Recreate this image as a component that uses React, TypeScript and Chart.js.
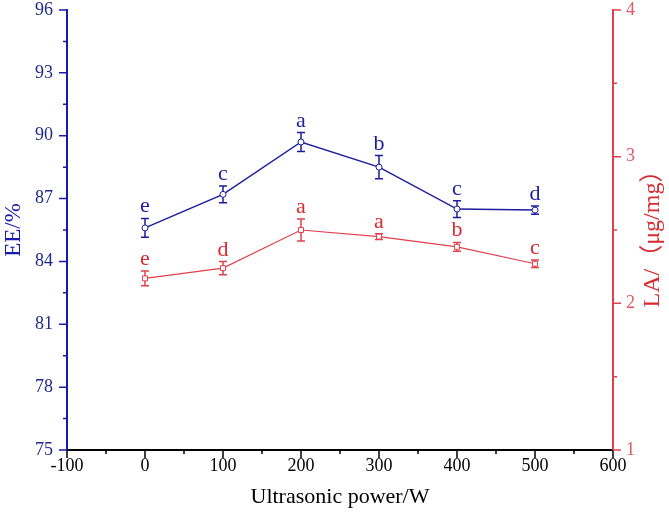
import React, { useEffect, useRef } from 'react';
import { Chart, registerables } from 'chart.js';

Chart.register(...registerables);

// ---- data ----
const powers = [0, 100, 200, 300, 400, 500];
const eeValues = [85.6, 87.2, 89.7, 88.5, 86.5, 86.45];
const eeErrors = [0.45, 0.4, 0.45, 0.55, 0.4, 0.2];
const eeLetters = ['e', 'c', 'a', 'b', 'c', 'd'];
const laValues = [2.17, 2.24, 2.5, 2.455, 2.385, 2.27];
const laErrors = [0.05, 0.045, 0.075, 0.02, 0.03, 0.025];
const laLetters = ['e', 'd', 'a', 'a', 'b', 'c'];

const xTickValues = [-100, 0, 100, 200, 300, 400, 500, 600];
const eeTickValues = [75, 78, 81, 84, 87, 90, 93, 96];
const laTickValues = [1, 2, 3, 4];

const xTitle = 'Ultrasonic power/W';
const eeTitle = 'EE/%';
const laTitle = 'LA/（μg/mg）';

// ---- styles ----
const SERIF = "'Liberation Serif', 'Times New Roman', 'Noto Sans CJK SC', serif";
const BLUE = '#1c1ca0';
const BLUE_AXIS = '#1a1ab0';
const BLUE_TEXT = '#1f2a8c';
const RED = '#e0404a';
const RED_TEXT = '#d82a30';
const RED_TICK = '#e05a66';

const minorTicks = (vals: number[]) => {
  const out: number[] = [];
  for (let i = 0; i < vals.length - 1; i++) out.push((vals[i] + vals[i + 1]) / 2);
  return out;
};

const zeroPad = (s: any) => {
  s.paddingTop = 0;
  s.paddingBottom = 0;
  s.paddingLeft = 0;
  s.paddingRight = 0;
};

const decorPlugin = {
  id: 'decor',
  beforeDatasetsDraw(chart: any) {
    const ctx = chart.ctx;
    const xScale = chart.scales.x;
    chart.data.datasets.forEach((ds: any) => {
      const yScale = chart.scales[ds.yAxisID];
      ctx.save();
      ctx.strokeStyle = ds.borderColor;
      ctx.lineWidth = 1.5;
      ds.data.forEach((pt: any, j: number) => {
        const x = xScale.getPixelForValue(pt.x);
        const yTop = yScale.getPixelForValue(pt.y + ds.errors[j]);
        const yBot = yScale.getPixelForValue(pt.y - ds.errors[j]);
        ctx.beginPath();
        ctx.moveTo(x, yTop);
        ctx.lineTo(x, yBot);
        ctx.moveTo(x - 4, yTop);
        ctx.lineTo(x + 4, yTop);
        ctx.moveTo(x - 4, yBot);
        ctx.lineTo(x + 4, yBot);
        ctx.stroke();
      });
      ctx.restore();
    });
  },
  afterDatasetsDraw(chart: any) {
    const ctx = chart.ctx;
    const xScale = chart.scales.x;
    chart.data.datasets.forEach((ds: any) => {
      const yScale = chart.scales[ds.yAxisID];
      ctx.save();
      ctx.fillStyle = ds.letterColor;
      ctx.font = `22px ${SERIF}`;
      ctx.textAlign = 'center';
      ctx.textBaseline = 'alphabetic';
      ds.data.forEach((pt: any, j: number) => {
        const x = xScale.getPixelForValue(pt.x);
        const yTop = yScale.getPixelForValue(pt.y + ds.errors[j]);
        ctx.fillText(ds.letters[j], x, yTop - 6);
      });
      ctx.restore();
    });
  },
  afterDraw(chart: any) {
    const ctx = chart.ctx;
    const { x, y, y1 } = chart.scales;
    ctx.save();
    ctx.lineWidth = 1.5;
    // x ticks
    ctx.strokeStyle = '#000';
    ctx.beginPath();
    xTickValues.forEach((v) => {
      const px = x.getPixelForValue(v);
      ctx.moveTo(px, x.top);
      ctx.lineTo(px, x.top + 8);
    });
    minorTicks(xTickValues).forEach((v) => {
      const px = x.getPixelForValue(v);
      ctx.moveTo(px, x.top);
      ctx.lineTo(px, x.top + 4);
    });
    ctx.stroke();
    // left ticks
    ctx.strokeStyle = BLUE_AXIS;
    ctx.beginPath();
    eeTickValues.forEach((v) => {
      const py = y.getPixelForValue(v);
      ctx.moveTo(y.right, py);
      ctx.lineTo(y.right - 8, py);
    });
    minorTicks(eeTickValues).forEach((v) => {
      const py = y.getPixelForValue(v);
      ctx.moveTo(y.right, py);
      ctx.lineTo(y.right - 4, py);
    });
    ctx.stroke();
    // right ticks
    ctx.strokeStyle = RED;
    ctx.beginPath();
    laTickValues.forEach((v) => {
      const py = y1.getPixelForValue(v);
      ctx.moveTo(y1.left, py);
      ctx.lineTo(y1.left + 8, py);
    });
    minorTicks(laTickValues).forEach((v) => {
      const py = y1.getPixelForValue(v);
      ctx.moveTo(y1.left, py);
      ctx.lineTo(y1.left + 4, py);
    });
    ctx.stroke();
    // right axis title (reads bottom-to-top)
    ctx.translate(653, 233);
    ctx.rotate(-Math.PI / 2);
    ctx.fillStyle = RED_TEXT;
    ctx.font = `24px ${SERIF}`;
    ctx.textAlign = 'center';
    ctx.textBaseline = 'middle';
    ctx.fillText(chart.options.scales.y1.title.text, 0, 0);
    ctx.restore();
  },
};

export default function App() {
  const ref = useRef<HTMLCanvasElement | null>(null);

  useEffect(() => {
    if (!ref.current) return;
    const chart = new Chart(ref.current, {
      type: 'line',
      data: {
        datasets: [
          {
            label: 'EE',
            data: powers.map((p, i) => ({ x: p, y: eeValues[i] })),
            yAxisID: 'y',
            borderColor: BLUE,
            backgroundColor: '#ffffff',
            borderWidth: 1.5,
            pointStyle: 'circle',
            pointRadius: 3,
            pointBorderWidth: 1,
            pointBackgroundColor: '#ffffff',
            pointBorderColor: BLUE,
            tension: 0,
            errors: eeErrors,
            letters: eeLetters,
            letterColor: BLUE,
          } as any,
          {
            label: 'LA',
            data: powers.map((p, i) => ({ x: p, y: laValues[i] })),
            yAxisID: 'y1',
            borderColor: RED,
            backgroundColor: '#ffffff',
            borderWidth: 1.2,
            pointStyle: 'rect',
            pointRadius: 3.5,
            pointBorderWidth: 1,
            pointBackgroundColor: '#ffffff',
            pointBorderColor: RED,
            tension: 0,
            errors: laErrors,
            letters: laLetters,
            letterColor: RED_TEXT,
          } as any,
        ],
      },
      options: {
        responsive: false,
        animation: false,
        devicePixelRatio: 1,
        layout: { padding: { top: 10, left: 0, right: 0, bottom: 0 }, autoPadding: false },
        plugins: { legend: { display: false }, tooltip: { enabled: false } },
        scales: {
          x: {
            type: 'linear',
            position: 'bottom',
            min: xTickValues[0],
            max: xTickValues[xTickValues.length - 1],
            afterBuildTicks: (s: any) => {
              s.ticks = xTickValues.map((v) => ({ value: v }));
            },
            afterFit: (s: any) => {
              s.height = 73;
              zeroPad(s);
            },
            grid: { display: false, drawTicks: false },
            border: { display: true, color: '#000', width: 2 },
            ticks: {
              color: '#000',
              font: { family: SERIF, size: 18 },
              padding: 5,
              maxRotation: 0,
              autoSkip: false,
            },
            title: {
              display: true,
              text: xTitle,
              color: '#000',
              font: { family: SERIF, size: 22 },
              padding: { top: 0, bottom: 13 },
            },
          },
          y: {
            type: 'linear',
            position: 'left',
            min: eeTickValues[0],
            max: eeTickValues[eeTickValues.length - 1],
            afterBuildTicks: (s: any) => {
              s.ticks = eeTickValues.map((v) => ({ value: v }));
            },
            afterFit: (s: any) => {
              s.width = 67;
              zeroPad(s);
            },
            grid: { display: false, drawTicks: false },
            border: { display: true, color: BLUE_AXIS, width: 2 },
            ticks: {
              color: BLUE_TEXT,
              font: { family: SERIF, size: 18 },
              padding: 14,
              autoSkip: false,
            },
            title: {
              display: true,
              text: eeTitle,
              color: BLUE_AXIS,
              font: { family: SERIF, size: 23 },
              padding: { top: 0, bottom: 0 },
            },
          },
          y1: {
            type: 'linear',
            position: 'right',
            min: laTickValues[0],
            max: laTickValues[laTickValues.length - 1],
            afterBuildTicks: (s: any) => {
              s.ticks = laTickValues.map((v) => ({ value: v }));
            },
            afterFit: (s: any) => {
              s.width = 56;
              zeroPad(s);
            },
            grid: { display: false, drawTicks: false },
            border: { display: true, color: RED, width: 2 },
            ticks: {
              color: RED_TICK,
              font: { family: SERIF, size: 18 },
              padding: 13,
              autoSkip: false,
            },
            title: { display: false, text: laTitle },
          },
        },
      } as any,
      plugins: [decorPlugin],
    });
    return () => chart.destroy();
  }, []);

  return (
    <div style={{ position: 'fixed', left: 0, top: 0, width: 669, height: 523, background: '#fff' }}>
      <canvas ref={ref} width={669} height={523} style={{ display: 'block' }} />
    </div>
  );
}
